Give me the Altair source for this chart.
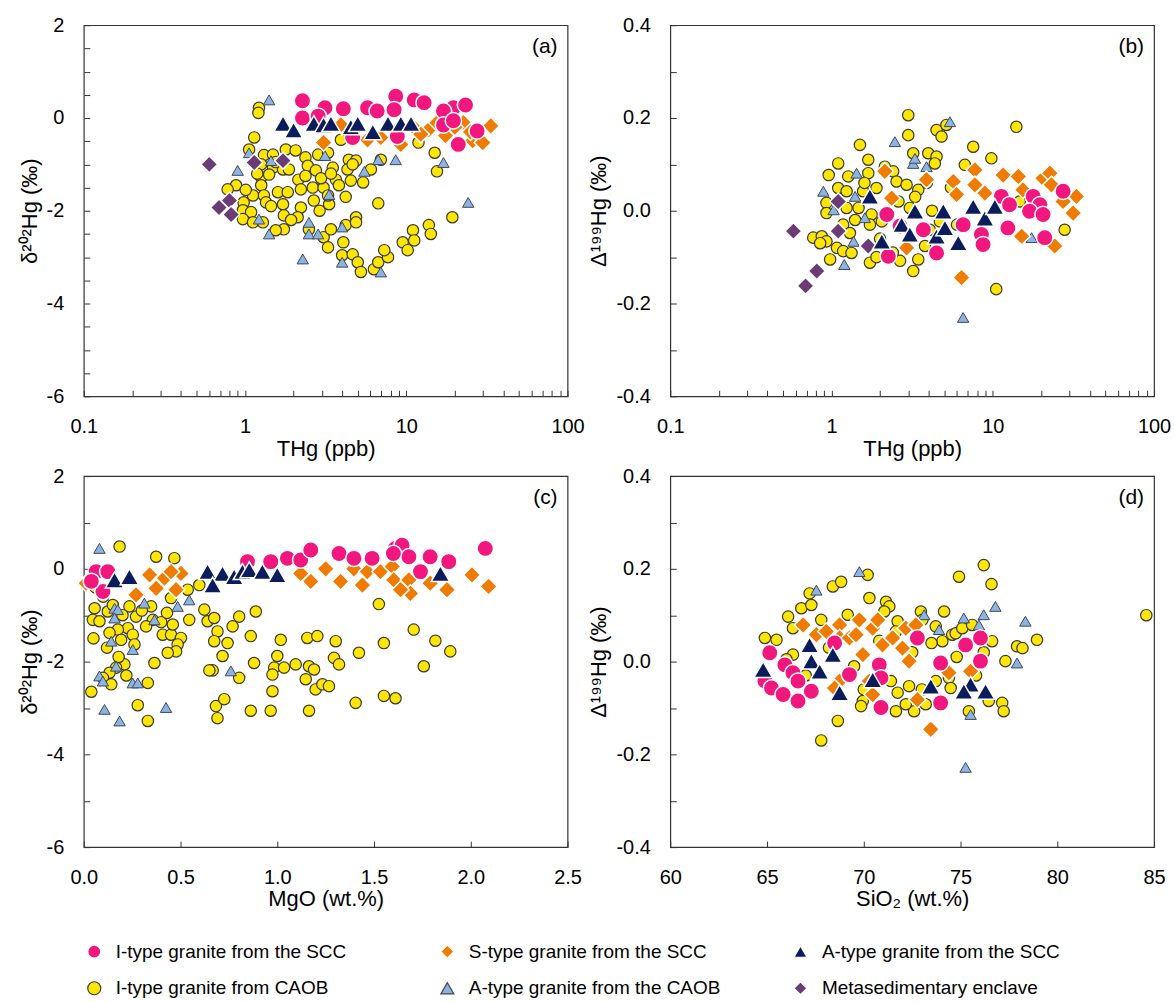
import altair as alt
import pandas as pd

GROUPS = ["I-type granite from the SCC", "S-type granite from the SCC", "A-type granite from the SCC",
          "I-type granite from CAOB", "A-type granite from the CAOB", "Metasedimentary enclave"]
FILLS = ["#F2167F", "#EF7B00", "#0B1C5C", "#FFE600", "#8DB3E2", "#6B3B76"]
STROKES = ["#FFFFFF", "#FFFFFF", "#FFFFFF", "#3A3A3A", "#3E4856", "#FFFFFF"]
SHAPES = ["circle", "diamond", "triangle-up", "circle", "triangle-up", "diamond"]
SIZES = [270, 300, 340, 130, 130, 290]
STROKE_W = [1.5, 1.5, 1.5, 1.2, 1.0, 1.5]
DRAW_ORDER = [3, 4, 5, 1, 0, 2]
# legend entries are filled column by column (2 rows x 3 columns)
LEGEND_ORDER = [0, 3, 1, 4, 2, 5]

# ---------------- panel (a): THg vs d202Hg ----------------
a_pink_x = [2.27, 3.13, 4.07, 2.27, 2.84, 5.75, 6.6, 8.6, 11.2, 12.9, 8.4, 19.6, 23.3, 17.0, 17.0, 19.6, 27.5, 21.0, 4.65, 8.8]
a_pink_y = [0.37, 0.22, 0.20, 0.0, 0.04, 0.22, 0.15, 0.47, 0.39, 0.33, 0.18, 0.22, 0.28, 0.15, -0.15, -0.06, -0.28, -0.57, -0.42, -0.40]
a_orange_x = [3.07, 3.93, 5.75, 6.95, 8.8, 11.2, 13.8, 15.5, 17.5, 22.6, 25.8, 33.4, 9.25, 29.8, 20.0, 12.3, 25.0]
a_orange_y = [-0.53, -0.15, -0.47, -0.42, -0.25, -0.21, -0.25, -0.10, -0.38, -0.10, -0.49, -0.17, -0.57, -0.53, -0.20, -0.35, -0.30]
a_navy_x = [1.72, 2.0, 2.67, 3.07, 3.41, 4.53, 5.0, 6.2, 7.7, 9.25, 10.7]
a_navy_y = [-0.12, -0.26, -0.12, -0.15, -0.12, -0.19, -0.12, -0.30, -0.12, -0.12, -0.12]
a_yel_x = [1.22, 1.21, 1.14, 1.06, 1.31, 1.49, 1.79, 2.06, 2.37, 2.84, 3.27, 4.40, 4.88, 6.95, 1.26, 1.49, 1.72, 2.45, 2.75, 3.50,
           3.66, 4.32, 4.53, 5.40, 6.03, 1.26, 1.41, 1.26, 0.88, 0.78, 1.12, 1.31, 1.60, 1.84, 2.14, 2.22, 2.63, 3.07, 0.98, 0.97,
           1.09, 1.35, 1.72, 2.22, 2.67, 3.32, 3.27, 0.97, 1.12, 1.29, 1.74, 2.12, 1.74, 1.55, 2.49, 3.07, 3.41, 4.21, 4.88, 4.88,
           3.27, 4.07, 4.0, 4.65, 5.0, 5.23, 6.3, 6.7, 7.7, 7.3, 9.5, 10.2, 11.0, 11.2, 13.8, 14.2, 19.3, 6.7, 15.0, 15.5,
           11.9, 3.93, 1.87, 1.45, 1.93, 2.37, 2.96, 3.82, 4.21, 1.19, 1.01, 2.9, 3.41, 1.55, 4.65]
a_yel_y = [0.22, 0.11, -0.42, -0.68, -0.80, -0.79, -0.68, -0.70, -0.85, -0.79, -0.75, -0.90, -0.92, -0.90, -1.0, -1.07, -1.11, -1.03, -1.13, -1.07,
           -1.33, -1.11, -1.35, -1.39, -1.11, -1.28, -1.22, -1.45, -1.45, -1.54, -1.67, -1.67, -1.60, -1.60, -1.33, -1.54, -1.50, -1.50, -1.82, -1.99,
           -2.03, -1.82, -1.86, -1.93, -1.78, -1.86, -1.67, -2.18, -2.25, -2.25, -2.10, -2.14, -2.40, -2.42, -2.40, -2.57, -2.40, -2.31, -2.14, -2.25,
           -2.79, -2.68, -2.96, -2.94, -3.11, -3.32, -3.26, -3.11, -3.00, -2.85, -2.68, -2.85, -2.42, -2.64, -2.31, -2.50, -2.14, -1.84, -0.75, -1.15,
           -0.53, -0.47, -1.11, -1.9, -2.2, -1.25, -1.3, -1.45, -1.7, -1.2, -1.55, -2.0, -1.2, -0.95, -1.0]
a_lb_x = [1.41, 1.06, 0.90, 1.45, 3.13, 6.7, 8.6, 17.0, 5.5, 3.32, 24.2, 1.22, 1.41, 2.49, 2.49, 2.84, 4.0, 2.28, 4.0, 6.95]
a_lb_y = [0.39, -0.75, -1.13, -0.92, -0.81, -0.90, -0.90, -0.96, -1.15, -1.65, -1.82, -2.18, -2.50, -2.25, -2.50, -2.50, -2.35, -3.04, -3.11, -3.32]
a_pur_x = [0.60, 1.14, 1.72, 0.69, 0.80, 0.82]
a_pur_y = [-1.0, -0.96, -0.92, -1.93, -1.78, -2.08]

# ---------------- panel (b): THg vs D199Hg ----------------
b_pink_x = [2.20, 2.25, 2.66, 4.48, 6.55, 8.5, 11.3, 12.7, 12.4, 17.8, 19.6, 16.9, 20.5, 21.0, 27.3, 8.7, 3.71]
b_pink_y = [-0.008, -0.098, -0.033, -0.091, -0.030, -0.051, 0.031, 0.013, -0.037, 0.031, 0.013, -0.001, -0.008, -0.058, 0.042, -0.073, -0.041]
b_orange_x = [2.14, 2.36, 3.88, 5.69, 5.96, 7.74, 7.74, 8.93, 11.6, 14.4, 15.4, 20.5, 22.6, 23.1, 33.0, 31.5, 24.2, 6.40, 15.1, 2.92, 27.3]
b_orange_y = [0.085, 0.027, 0.067, 0.063, 0.035, 0.088, 0.056, 0.038, 0.077, 0.074, 0.045, 0.070, 0.081, 0.056, 0.031, -0.005, -0.076, -0.144, -0.055, -0.080, 0.020]
b_navy_x = [1.73, 2.05, 2.72, 3.06, 3.29, 4.48, 4.93, 5.05, 6.11, 7.56, 8.93, 10.3]
b_navy_y = [0.031, -0.066, -0.030, -0.051, -0.001, -0.055, -0.001, -0.037, -0.069, 0.009, -0.016, 0.009]
b_yel_x = [2.99, 2.99, 4.48, 4.81, 5.16, 14.0, 1.50, 1.10, 1.69, 3.21, 3.98, 4.48, 4.37, 7.56, 9.8, 0.96, 1.10, 1.27, 1.69, 2.14,
           2.41, 2.53, 2.92, 3.45, 1.90, 1.24, 1.57, 0.93, 0.93, 1.24, 1.47, 1.77, 1.73, 1.18, 1.30, 0.77, 0.87, 0.93, 1.08, 1.18,
           1.33, 0.98, 1.73, 2.66, 3.21, 3.45, 3.80, 4.07, 4.70, 3.06, 10.5, 27.9, 6.71, 14.7, 2.05,
           1.4, 2.6, 3.3, 2.0, 2.4, 1.6, 3.9, 4.2, 5.5, 6.0, 1.9, 0.85]
b_yel_y = [0.206, 0.163, 0.174, 0.160, 0.185, 0.181, 0.142, 0.102, 0.110, 0.124, 0.124, 0.117, 0.102, 0.138, 0.113, 0.077, 0.049, 0.074, 0.081, 0.095,
           0.085, 0.063, 0.056, 0.045, 0.049, 0.042, 0.042, 0.017, -0.005, 0.006, 0.006, -0.008, -0.030, -0.030, -0.048, -0.058, -0.055, -0.066, -0.080, -0.087,
           -0.091, -0.105, -0.112, -0.108, -0.130, -0.105, -0.076, -0.041, -0.023, 0.006, -0.169, -0.041, 0.099, 0.020, -0.023,
           -0.02, 0.02, 0.03, -0.06, -0.09, 0.06, 0.06, 0.0, 0.05, -0.03, -0.10, -0.07]
b_lb_x = [5.42, 2.47, 3.21, 3.88, 3.29, 1.43, 0.89, 1.40, 1.03, 1.61, 1.37, 1.20, 6.55, 17.4]
b_lb_y = [0.192, 0.149, 0.102, 0.095, 0.113, 0.081, 0.042, 0.031, 0.002, -0.015, -0.066, -0.116, -0.230, -0.058]
b_pur_x = [0.58, 1.10, 1.10, 1.69, 0.81, 0.69]
b_pur_y = [-0.044, 0.020, -0.044, -0.076, -0.130, -0.162]

# ---------------- panel (c): MgO vs d202Hg ----------------
c_pink_x = [0.064, 0.124, 0.099, 0.039, 0.846, 0.966, 1.052, 1.121, 1.173, 1.319, 1.396, 1.49, 1.61, 1.645, 1.68, 1.79, 1.886, 2.075, 1.74, 1.60]
c_pink_y = [-0.06, -0.06, -0.49, -0.27, 0.155, 0.155, 0.226, 0.19, 0.405, 0.33, 0.226, 0.226, 0.44, 0.51, 0.26, 0.26, 0.155, 0.44, -0.06, 0.33]
c_orange_x = [0.013, 0.27, 0.34, 0.417, 0.374, 0.477, 0.502, 0.451, 1.121, 1.173, 1.25, 1.327, 1.396, 1.44, 1.465, 1.533, 1.594, 1.602, 1.68, 1.688,
              1.79, 1.877, 2.006, 2.092, 1.637]
c_orange_y = [-0.31, -0.56, -0.13, -0.20, -0.42, -0.45, -0.10, -0.06, -0.10, -0.27, 0.0, -0.27, 0.0, -0.35, -0.06, -0.06, 0.05, -0.24, -0.24, -0.53,
              -0.31, -0.45, -0.13, -0.38, -0.45]
c_navy_x = [0.159, 0.236, 0.64, 0.717, 0.666, 0.777, 0.82, 0.855, 0.923, 1.0, 1.843]
c_navy_y = [-0.24, -0.17, -0.06, -0.10, -0.35, -0.17, -0.06, -0.02, -0.06, -0.13, -0.10]
c_yel_x = [0.185, 0.374, 0.468, 0.597, 0.537, 0.451, 0.056, 0.047, 0.081, 0.124, 0.15, 0.236, 0.27, 0.348, 0.357, 0.322, 0.228, 0.176, 0.133, 0.193,
           0.253, 0.262, 0.408, 0.451, 0.502, 0.485, 0.46, 0.477, 0.434, 0.365, 0.21, 0.167, 0.133, 0.099, 0.142, 0.039, 0.331, 0.279, 0.331, 0.545,
           0.623, 0.64, 0.674, 0.691, 0.674, 0.743, 0.769, 0.803, 0.889, 0.717, 0.666, 0.803, 0.863, 0.88, 1.018, 1.0, 0.984, 0.975, 0.975, 1.035,
           1.095, 1.155, 1.207, 1.164, 1.19, 1.147, 1.198, 1.233, 1.267, 1.302, 1.293, 1.319, 1.422, 1.525, 1.551, 1.705, 1.757, 1.817, 1.894, 1.405,
           1.551, 1.611, 1.164, 0.966, 0.863, 0.683, 0.726, 0.691, 0.649,
           0.1, 0.2, 0.3, 0.05, 0.12, 0.22, 0.4, 0.43, 0.06, 0.18]
c_yel_y = [0.48, 0.26, 0.23, -0.35, -0.45, -0.63, -0.85, -1.10, -1.13, -0.92, -0.78, -0.81, -1.03, -0.81, -1.10, -1.24, -1.28, -1.31, -1.38, -1.53,
           -1.42, -1.63, -1.42, -1.42, -1.49, -1.63, -1.20, -1.78, -1.81, -2.03, -2.06, -2.13, -2.24, -2.35, -2.49, -2.65, -2.46, -2.94, -3.28, -1.10,
           -0.88, -1.13, -1.06, -1.35, -1.56, -1.60, -1.24, -1.03, -0.92, -1.88, -2.19, -2.35, -1.45, -2.03, -1.53, -1.88, -2.13, -2.28, -2.64, -2.13,
           -2.06, -1.49, -1.45, -2.10, -2.17, -2.38, -2.60, -2.49, -2.53, -1.56, -1.92, -2.06, -1.81, -0.76, -1.60, -1.31, -2.10, -1.55, -1.78, -2.89,
           -2.74, -2.79, -3.06, -3.06, -3.06, -2.96, -2.81, -3.22, -2.19,
           -0.6, -1.0, -0.9, -1.5, -1.7, -2.3, -1.15, -0.95, -0.4, -1.9]
c_lb_x = [0.081, 0.545, 0.485, 0.313, 0.159, 0.176, 0.159, 0.365, 0.142, 0.253, 0.167, 0.081, 0.099, 0.253, 0.279, 0.107, 0.185, 0.425, 0.76]
c_lb_y = [0.44, -0.67, -0.81, -0.74, -0.85, -0.88, -1.06, -1.10, -1.56, -1.74, -2.10, -2.31, -2.42, -2.46, -2.46, -3.03, -3.28, -2.99, -2.20]
c_pur_x = []
c_pur_y = []

# ---------------- panel (d): SiO2 vs D199Hg ----------------
d_pink_x = [65.14, 64.89, 65.23, 65.83, 65.92, 66.34, 66.6, 66.6, 67.29, 68.49, 69.26, 70.8, 70.89, 70.89, 72.77, 73.97, 73.97, 75.26, 76.03, 76.03]
d_pink_y = [0.019, -0.042, -0.057, -0.071, -0.007, -0.024, -0.042, -0.085, -0.064, 0.040, -0.028, -0.007, -0.035, -0.099, 0.051, -0.003, -0.089, 0.036, 0.051, 0.001]
d_orange_x = [66.86, 67.55, 68.06, 68.75, 68.75, 69.26, 69.77, 69.6, 69.95, 70.46, 70.72, 70.97, 71.49, 72.0, 72.17, 72.69, 72.34, 68.75, 68.49, 70.29,
              70.46, 72.77, 73.46, 74.4, 75.52]
d_orange_y = [0.079, 0.058, 0.065, 0.079, 0.051, 0.051, 0.090, 0.058, 0.015, 0.072, 0.090, 0.036, 0.051, 0.029, 0.072, 0.079, 0.001, -0.042, -0.057, -0.042,
              -0.071, -0.082, -0.146, -0.024, -0.021]
d_navy_x = [64.8, 67.2, 67.29, 67.72, 68.4, 68.75, 70.46, 73.46, 75.52, 76.29, 75.17]
d_navy_y = [-0.017, 0.036, 0.001, -0.021, 0.015, -0.067, -0.039, -0.053, -0.049, -0.064, -0.064]
d_yel_x = [64.89, 65.49, 66.09, 66.34, 66.77, 67.29, 67.2, 68.4, 68.83, 67.8, 70.2, 70.29, 71.15, 71.32, 71.06, 69.17, 71.75, 71.66, 72.95, 73.03,
           73.72, 74.15, 74.06, 74.57, 74.75, 74.92, 76.2, 76.6, 75.09, 75.6, 76.63, 77.32, 77.92, 78.2, 78.95, 77.15, 77.23, 76.46, 75.43, 74.4,
           74.49, 73.72, 73.2, 72.6, 72.17, 71.66, 72.34, 71.75, 69.95, 69.86, 68.66, 67.8, 71.4, 66.34, 84.6,
           66.0, 67.0, 68.2, 69.5, 70.8, 72.5, 73.5, 74.8, 75.8, 76.2, 73.0, 70.0]
d_yel_y = [0.051, 0.047, 0.097, 0.072, 0.115, 0.122, 0.147, 0.162, 0.172, 0.090, 0.187, 0.137, 0.129, 0.119, 0.108, 0.101, 0.087, 0.065, 0.108, 0.090,
           0.076, 0.108, 0.044, 0.058, 0.061, 0.183, 0.208, 0.167, 0.072, 0.079, 0.044, 0.001, 0.033, 0.029, 0.047, -0.089, -0.107, -0.085, -0.107, -0.035,
           -0.057, -0.042, -0.092, -0.107, -0.092, -0.107, -0.053, -0.067, -0.085, -0.096, -0.128, -0.170, -0.042, 0.015, 0.100,
           0.005, -0.03, 0.03, -0.01, 0.045, 0.02, 0.04, 0.01, -0.03, 0.02, -0.06, -0.06]
d_lb_x = [67.55, 69.77, 73.12, 73.89, 75.17, 76.2, 76.8, 75.95, 78.35, 77.92, 75.52, 75.26]
d_lb_y = [0.154, 0.194, 0.101, 0.069, 0.094, 0.101, 0.119, 0.079, 0.087, -0.003, -0.114, -0.228]
d_pur_x = []
d_pur_y = []

# ---------------- axis tick positions ----------------
LOG_TICKS = [0.1, 0.2, 0.3, 0.4, 0.5, 0.6, 0.7, 0.8, 0.9, 1, 2, 3, 4, 5, 6, 7, 8, 9,
             10, 20, 30, 40, 50, 60, 70, 80, 90, 100]
D202_TICKS_A = [-6, -5.5, -5, -4.5, -4, -3.5, -3, -2.5, -2, -1.5, -1, -0.5, 0, 0.5, 1, 1.5, 2]
D202_TICKS_C = [-6, -5, -4, -3, -2, -1, 0, 1, 2]
D199_TICKS = [-0.4, -0.3, -0.2, -0.1, 0, 0.1, 0.2, 0.3, 0.4]
MGO_TICKS = [0, 0.5, 1, 1.5, 2, 2.5]
SIO2_TICKS = [60, 65, 70, 75, 80, 85]

W, H = 485, 372
FONT = "Liberation Sans"


def frame(xs, ys):
    rows = []
    for g, xl, yl in zip(GROUPS, xs, ys):
        for xv, yv in zip(xl, yl):
            rows.append({"x": xv, "y": yv, "g": g})
    return pd.DataFrame(rows)


LEG_DOMAIN = [GROUPS[i] for i in LEGEND_ORDER]
LEG_FILLS = [FILLS[i] for i in LEGEND_ORDER]
LEG_STROKES = [STROKES[i] for i in LEGEND_ORDER]
LEG_SHAPES = [SHAPES[i] for i in LEGEND_ORDER]

LEG = alt.Legend(orient="none", legendX=1, legendY=919, columns=3, title=None,
                 labelFont=FONT, labelFontSize=19, labelColor="black", symbolSize=170,
                 symbolStrokeWidth=1.2, labelOffset=12, columnPadding=70, rowPadding=17,
                 gridAlign="all", labelLimit=400)


def xaxis(values, title, label_expr=None, fmt=None):
    kw = dict(values=values, title=title, offset=-6, tickSize=6, labelPadding=20,
              labelFlush=False, labelOverlap=False, grid=False, domain=False, titlePadding=2)
    if label_expr:
        kw["labelExpr"] = label_expr
    if fmt:
        kw["format"] = fmt
    return alt.Axis(**kw)


def yaxis(values, title, label_expr):
    return alt.Axis(values=values, title=title, offset=-6, tickSize=6, labelPadding=20,
                    labelFlush=False, labelOverlap=False, grid=False, domain=False,
                    titlePadding=5, labelExpr=label_expr)


def panel(df, xscale, yscale, xax, yax, label):
    layers = []
    for i in DRAW_ORDER:
        layers.append(
            alt.Chart(df).transform_filter(alt.datum.g == GROUPS[i])
            .mark_point(filled=True, opacity=1, size=SIZES[i], strokeWidth=STROKE_W[i])
            .encode(
                x=alt.X("x:Q", scale=xscale, axis=xax),
                y=alt.Y("y:Q", scale=yscale, axis=yax),
                fill=alt.Fill("g:N", scale=alt.Scale(domain=LEG_DOMAIN, range=LEG_FILLS), legend=LEG),
                stroke=alt.Stroke("g:N", scale=alt.Scale(domain=LEG_DOMAIN, range=LEG_STROKES), legend=LEG),
                shape=alt.Shape("g:N", scale=alt.Scale(domain=LEG_DOMAIN, range=LEG_SHAPES), legend=LEG),
            )
        )
    txt = alt.Chart(pd.DataFrame({"t": [label]})).mark_text(
        align="right", baseline="middle", fontSize=21, font=FONT, color="black"
    ).encode(text="t:N", x=alt.value(W - 10), y=alt.value(22))
    return alt.layer(*layers, txt).properties(width=W, height=H)


LOG_LABELS = "indexof([0.1, 1, 10, 100], datum.value) >= 0 ? toString(datum.value) : ''"
EVEN_LABELS = "datum.value % 2 == 0 ? toString(datum.value) : ''"
D199_LABELS = "indexof([-0.4, -0.2, 0.2, 0.4], datum.value) >= 0 ? toString(datum.value) : (datum.value == 0 ? '0.0' : '')"

df_a = frame([a_pink_x, a_orange_x, a_navy_x, a_yel_x, a_lb_x, a_pur_x],
             [a_pink_y, a_orange_y, a_navy_y, a_yel_y, a_lb_y, a_pur_y])
df_b = frame([b_pink_x, b_orange_x, b_navy_x, b_yel_x, b_lb_x, b_pur_x],
             [b_pink_y, b_orange_y, b_navy_y, b_yel_y, b_lb_y, b_pur_y])
df_c = frame([c_pink_x, c_orange_x, c_navy_x, c_yel_x, c_lb_x, c_pur_x],
             [c_pink_y, c_orange_y, c_navy_y, c_yel_y, c_lb_y, c_pur_y])
df_d = frame([d_pink_x, d_orange_x, d_navy_x, d_yel_x, d_lb_x, d_pur_x],
             [d_pink_y, d_orange_y, d_navy_y, d_yel_y, d_lb_y, d_pur_y])

log_scale = alt.Scale(type="log", domain=[0.1, 100], nice=False)
d202_scale = alt.Scale(domain=[-6, 2], nice=False, zero=False)
d199_scale = alt.Scale(domain=[-0.4, 0.4], nice=False, zero=False)

pa = panel(df_a, log_scale, d202_scale,
           xaxis(LOG_TICKS, "THg (ppb)", LOG_LABELS),
           yaxis(D202_TICKS_A, "δ²⁰²Hg (‰)", EVEN_LABELS), "(a)")
pb = panel(df_b, log_scale, d199_scale,
           xaxis(LOG_TICKS, "THg (ppb)", LOG_LABELS),
           yaxis(D199_TICKS, "Δ¹⁹⁹Hg (‰)", D199_LABELS), "(b)")
pc = panel(df_c, alt.Scale(domain=[0, 2.5], nice=False, zero=False), d202_scale,
           xaxis(MGO_TICKS, "MgO (wt.%)", fmt=".1f"),
           yaxis(D202_TICKS_C, "δ²⁰²Hg (‰)", EVEN_LABELS), "(c)")
pd_ = panel(df_d, alt.Scale(domain=[60, 85], nice=False, zero=False), d199_scale,
            xaxis(SIO2_TICKS, "SiO₂ (wt.%)"),
            yaxis(D199_TICKS, "Δ¹⁹⁹Hg (‰)", D199_LABELS), "(d)")

chart = alt.concat(pa, pb, pc, pd_, columns=2, spacing={"row": 80, "column": 103},
                   bounds="flush").properties(
    padding={"left": 17, "top": 13, "right": 2, "bottom": 4}
).configure(font=FONT).configure_axis(
    labelFont=FONT, titleFont=FONT, labelFontSize=20, titleFontSize=22,
    titleFontWeight="normal", labelColor="black", titleColor="black",
    tickColor="#333333", tickWidth=1
).configure_view(stroke="#333333", strokeWidth=1.2)

chart.save("out.html", embed_options={"renderer": "svg", "actions": False})
